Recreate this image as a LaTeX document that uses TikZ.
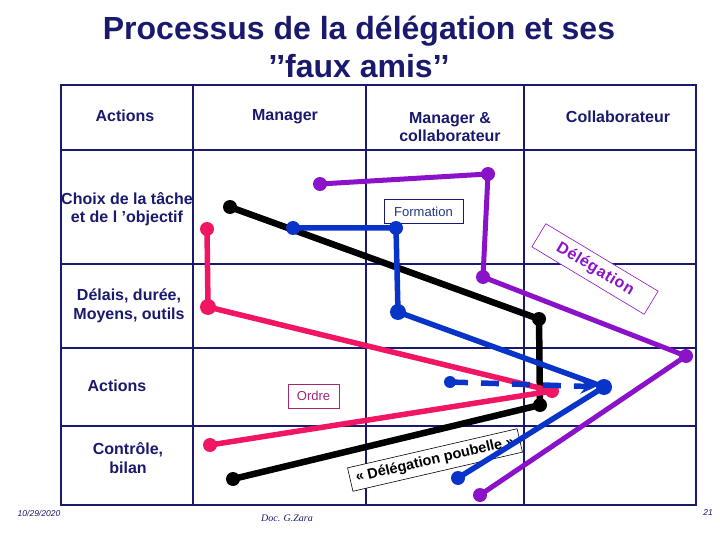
\documentclass[tikz,border=0pt]{standalone}
\usepackage{fontspec}
\setmainfont{Liberation Sans}
\newfontfamily\serifit{Liberation Serif}
\usepackage{xcolor}
\usepackage{tikz}
\usetikzlibrary{shapes, arrows, positioning, calc}

\definecolor{navy}{RGB}{25,25,110}
\definecolor{pinkc}{RGB}{240,22,100}
\definecolor{bluec}{RGB}{8,52,200}
\definecolor{purplec}{RGB}{138,18,200}
\definecolor{formc}{RGB}{35,55,125}
\definecolor{ordrec}{RGB}{165,40,110}

\begin{document}
\begin{tikzpicture}[
    x=1pt, y=-1pt,
    tabline/.style={draw=navy, line width=1.3pt},
    cell/.style={text=navy, font=\fontsize{16}{18.5}\selectfont\bfseries, align=center, inner sep=0pt},
    dot/.style={circle, inner sep=0pt, minimum size=14pt},
    track/.style={line width=5.5pt, line join=round},
    dashtrack/.style={track, bluec, dash pattern=on 18pt off 13pt, ->, >=stealth},
    tagbox/.style={rectangle, fill=white, line width=0.8pt, inner sep=0pt, minimum height=24pt, font=\fontsize{13}{15}\selectfont},
    foot/.style={font=\fontsize{8.5}{10}\selectfont\itshape, inner sep=0pt}
]
\useasboundingbox (0,0) rectangle (720,540);

% Title
\node[text=navy, font=\fontsize{32}{38.5}\selectfont\bfseries, align=center] (title) at (359,47) {Processus de la délégation et ses\\’’faux amis’’};

% Table
\draw[tabline] (61,85) rectangle (696,505);
\foreach \y in {150,264,348,426}
    \draw[tabline] (61,\y) -- (696,\y);
\foreach \x in {193,366,524}
    \draw[tabline] (\x,85) -- (\x,505);

% Column heads
\node[cell] (h1) at (125,116) {Actions};
\node[cell] (h2) at (285,117) {Manager};
\node[cell] (h3) at (450,127) {Manager \&\\collaborateur};
\node[cell] (h4) at (618,117) {Collaborateur};

% Row heads
\node[cell] (r1) at (127,209) {Choix de la tâche\\ et de l ’objectif};
\node[cell] (r2) at (129,306) {Délais, durée,\\ Moyens, outils};
\node[cell] (r3) at (117,386) {Actions};
\node[cell] (r4) at (128,458) {Contrôle,\\bilan};

% Tags
\node[tagbox, draw=navy, text=formc, minimum width=79pt] (formation) at (423.5,211.5) {Formation};
\node[tagbox, draw=ordrec, text=ordrec, minimum width=51pt] (ordre) at (313.5,396) {Ordre};
\node[tagbox, draw=purplec, line width=0.6pt, text=purplec, minimum width=131pt, minimum height=27pt,
      font=\fontsize{16}{18}\selectfont\bfseries\addfontfeature{LetterSpace=4}, rotate=-31] (delegation) at (595,269) {Délégation};
\node[tagbox, draw=black, line width=0.6pt, minimum width=174pt,
      font=\fontsize{14.5}{16}\selectfont\bfseries, rotate=13] (poubelle) at (435,460) {« Délégation poubelle »};

% Black track
\node[dot, fill=black] (k1) at (230,207) {};
\node[dot, fill=black] (k2) at (539,319) {};
\node[dot, fill=black] (k3) at (540,405) {};
\node[dot, fill=black] (k4) at (233,479) {};
\draw[track, black, line width=6.5pt] (k1.center) -- (k2.center) -- (k3.center) -- (k4.center);

% Pink track
\node[dot, fill=pinkc] (p1) at (207,229) {};
\node[dot, fill=pinkc, minimum size=16pt] (p2) at (208,307) {};
\node[dot, fill=pinkc] (p3) at (552,391) {};
\node[dot, fill=pinkc] (p4) at (210,445) {};
\draw[track, pinkc] (p1.center) -- (p2.center) -- (p3.center) -- (p4.center);

% Blue track
\node[dot, fill=bluec] (b1) at (293,228) {};
\node[dot, fill=bluec] (b2) at (396,228) {};
\node[dot, fill=bluec, minimum size=16pt] (b3) at (398,312) {};
\node[dot, fill=bluec, minimum size=16pt] (b4) at (604,387) {};
\node[dot, fill=bluec] (b5) at (458,478) {};
\node[dot, fill=bluec, minimum size=12pt] (b6) at (450,382) {};
\draw[track, bluec] (b1.center) -- (b2.center) -- (b3.center) -- (b4.center) -- (b5.center);
\draw[dashtrack] (b6.center) -- (b4);

% Purple track
\node[dot, fill=purplec] (v1) at (320,184) {};
\node[dot, fill=purplec] (v2) at (488,174) {};
\node[dot, fill=purplec] (v3) at (483,277) {};
\node[dot, fill=purplec] (v4) at (686,356) {};
\node[dot, fill=purplec] (v5) at (480,495) {};
\draw[track, purplec, line width=5pt] (v1.center) -- (v2.center) -- (v3.center) -- (v4.center) -- (v5.center);

% Footer
\node[foot, text=navy] (date) at (39,513) {10/29/2020};
\node[foot, text=navy, font=\fontsize{10}{12}\selectfont\serifit\itshape] (doc) at (287,518) {Doc. G.Zara};
\node[foot, text=navy] (page) at (708,513) {21};

\end{tikzpicture}
\end{document}
